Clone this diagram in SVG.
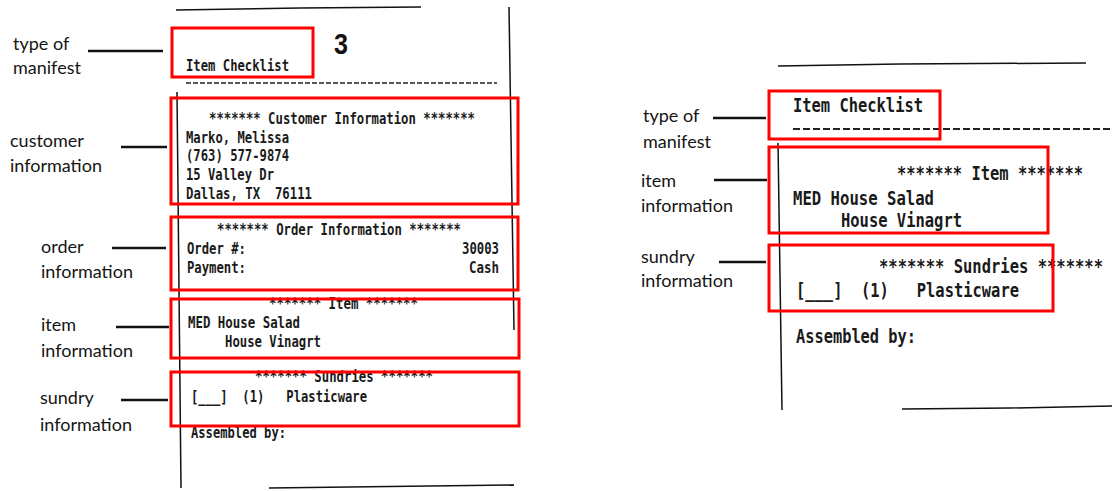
<svg xmlns="http://www.w3.org/2000/svg" width="1112" height="491" viewBox="0 0 1112 491">
<style>
.lbl{font-family:"Lato","Noto Sans",sans-serif;font-size:18px;fill:#151515}
.rc{font-family:"DejaVu Sans Mono","Liberation Mono",monospace;font-weight:bold;font-size:16.5px;fill:#1a1a1a}
.rc2{font-family:"DejaVu Sans Mono","Liberation Mono",monospace;font-weight:bold;font-size:19.5px;fill:#1a1a1a}
.box{fill:none;stroke:#ff0000;stroke-width:3}
.edge{fill:none;stroke:#111;stroke-width:1.5}
.conn{stroke:#111;stroke-width:2.5}
</style>
<rect width="1112" height="491" fill="#fff"/>

<g id="receipt-left">
  <path class="edge" d="M176 10 L300 8 L421 7"/>
  <path class="edge" d="M509 7 L514 330"/>
  <path class="edge" d="M177 92 L181 488"/>
  <path class="edge" d="M269 488 L514 485"/>
  <line x1="186" y1="83" x2="497" y2="83" stroke="#222" stroke-width="1.5" stroke-dasharray="5 2"/>
  <text x="334" y="54" font-family="Liberation Sans,sans-serif" font-weight="bold" font-size="30" textLength="14" lengthAdjust="spacingAndGlyphs" fill="#111">3</text>
  <text class="rc" x="186" y="71" textLength="103" lengthAdjust="spacingAndGlyphs">Item Checklist</text>
  <text class="rc" x="209" y="124" textLength="266" lengthAdjust="spacingAndGlyphs">******* Customer Information *******</text>
  <text class="rc" x="186" y="143" textLength="103" lengthAdjust="spacingAndGlyphs">Marko, Melissa</text>
  <text class="rc" x="186" y="161" textLength="103" lengthAdjust="spacingAndGlyphs">(763) 577-9874</text>
  <text class="rc" x="186" y="180" textLength="88" lengthAdjust="spacingAndGlyphs">15 Valley Dr</text>
  <text class="rc" x="186" y="199" textLength="126" lengthAdjust="spacingAndGlyphs" xml:space="preserve">Dallas, TX  76111</text>
  <text class="rc" x="217" y="235" textLength="244" lengthAdjust="spacingAndGlyphs">******* Order Information *******</text>
  <text class="rc" x="187" y="254" textLength="59" lengthAdjust="spacingAndGlyphs">Order #:</text>
  <text class="rc" x="462" y="254" textLength="37" lengthAdjust="spacingAndGlyphs">30003</text>
  <text class="rc" x="187" y="273" textLength="59" lengthAdjust="spacingAndGlyphs">Payment:</text>
  <text class="rc" x="469" y="273" textLength="30" lengthAdjust="spacingAndGlyphs">Cash</text>
  <text class="rc" x="269" y="309" textLength="149" lengthAdjust="spacingAndGlyphs">******* Item *******</text>
  <text class="rc" x="188" y="328" textLength="112" lengthAdjust="spacingAndGlyphs">MED House Salad</text>
  <text class="rc" x="225" y="347" textLength="96" lengthAdjust="spacingAndGlyphs">House Vinagrt</text>
  <text class="rc" x="255" y="382" textLength="178" lengthAdjust="spacingAndGlyphs">******* Sundries *******</text>
  <text class="rc" x="191" y="402" textLength="176" lengthAdjust="spacingAndGlyphs" xml:space="preserve">[___]  (1)   Plasticware</text>
  <text class="rc" x="191" y="438" textLength="95" lengthAdjust="spacingAndGlyphs">Assembled by:</text>
</g>

<g id="receipt-right">
  <path class="edge" d="M778 66 L900 64 L1086 63"/>
  <path class="edge" d="M778 143 L782 410"/>
  <path class="edge" d="M902 409 L1010 408 L1112 406"/>
  <line x1="793" y1="129" x2="1112" y2="129" stroke="#222" stroke-width="2" stroke-dasharray="7 3"/>
  <text class="rc2" x="793" y="112" textLength="130" lengthAdjust="spacingAndGlyphs">Item Checklist</text>
  <text class="rc2" x="897" y="180" textLength="186" lengthAdjust="spacingAndGlyphs">******* Item *******</text>
  <text class="rc2" x="793" y="205" textLength="141" lengthAdjust="spacingAndGlyphs">MED House Salad</text>
  <text class="rc2" x="841" y="227" textLength="121" lengthAdjust="spacingAndGlyphs">House Vinagrt</text>
  <text class="rc2" x="879" y="273" textLength="224" lengthAdjust="spacingAndGlyphs">******* Sundries *******</text>
  <text class="rc2" x="796" y="297" textLength="223" lengthAdjust="spacingAndGlyphs" xml:space="preserve">[___]  (1)   Plasticware</text>
  <text class="rc2" x="796" y="343" textLength="120" lengthAdjust="spacingAndGlyphs">Assembled by:</text>
</g>

<g id="left-type-of-manifest">
  <rect class="box" x="172" y="28" width="141" height="49"/>
  <text class="lbl" x="13" y="50">type of</text>
  <text class="lbl" x="13" y="74">manifest</text>
</g>
<g id="left-customer-information">
  <rect class="box" x="171" y="98" width="347" height="106"/>
  <text class="lbl" x="10" y="147">customer</text>
  <text class="lbl" x="10" y="172">information</text>
</g>
<g id="left-order-information">
  <rect class="box" x="171" y="217" width="347" height="73"/>
  <text class="lbl" x="41" y="253">order</text>
  <text class="lbl" x="41" y="278">information</text>
</g>
<g id="left-item-information">
  <rect class="box" x="171" y="299" width="348" height="59"/>
  <text class="lbl" x="41" y="331">item</text>
  <text class="lbl" x="41" y="357">information</text>
</g>
<g id="left-sundry-information">
  <rect class="box" x="171" y="372" width="348" height="54"/>
  <text class="lbl" x="40" y="404">sundry</text>
  <text class="lbl" x="40" y="431">information</text>
</g>

<g id="right-type-of-manifest">
  <rect class="box" x="769" y="91" width="171" height="48"/>
  <text class="lbl" x="643" y="122">type of</text>
  <text class="lbl" x="643" y="148">manifest</text>
</g>
<g id="right-item-information">
  <rect class="box" x="769" y="147" width="279" height="86"/>
  <text class="lbl" x="641" y="187">item</text>
  <text class="lbl" x="641" y="212">information</text>
</g>
<g id="right-sundry-information">
  <rect class="box" x="769" y="245" width="284" height="66"/>
  <text class="lbl" x="641" y="263">sundry</text>
  <text class="lbl" x="641" y="287">information</text>
</g>

<g id="connectors">
  <line class="conn" x1="88" y1="51" x2="163" y2="51"/>
  <line class="conn" x1="121" y1="147" x2="167" y2="147"/>
  <line class="conn" x1="112" y1="248" x2="166" y2="248"/>
  <line class="conn" x1="116" y1="327" x2="169" y2="327"/>
  <line class="conn" x1="121" y1="400" x2="168" y2="400"/>
  <line class="conn" x1="713" y1="118" x2="766" y2="118"/>
  <line class="conn" x1="714" y1="180" x2="767" y2="180"/>
  <line class="conn" x1="719" y1="262" x2="766" y2="262"/>
</g>
</svg>
